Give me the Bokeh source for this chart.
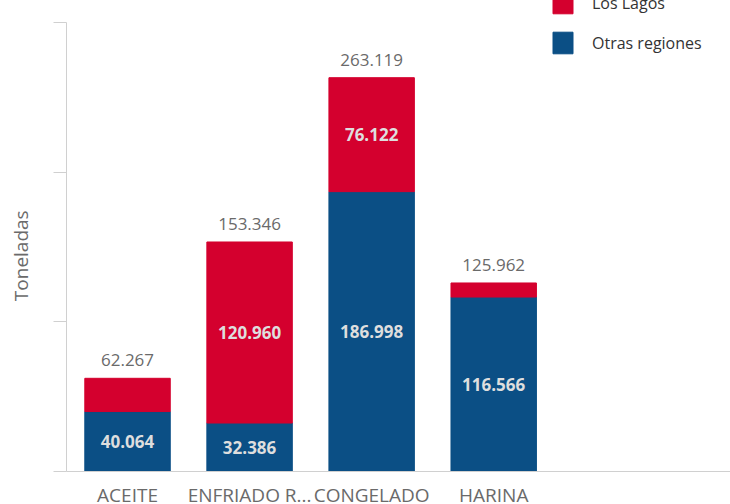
from bokeh.plotting import figure
from bokeh.models import ColumnDataSource, Range1d, FixedTicker, Legend, LegendItem, LabelSet
from bokeh.core.properties import value
from bokeh.embed import file_html
from bokeh.resources import INLINE

categories = ["ACEITE", "ENFRIADO R...", "CONGELADO", "HARINA"]
otras_regiones = [40064, 32386, 186998, 116566]
los_lagos = [22203, 120960, 76122, 9396]
totales = [62267, 153346, 263119, 125962]
y_ticks = [0, 100000, 200000, 300000]
y_title = "Toneladas"

RED = "#d4002e"
BLUE = "#0b4f85"
FONT = "Open Sans"

# frame layout: axis drawn over 449px, frame extends 22px higher (for clipped legend)
AXIS_PX = 449
FRAME_PX = 471
y_top = y_ticks[-1] * FRAME_PX / AXIS_PX


def fmt(v):
    return f"{v:,}".replace(",", ".")


xs = list(range(len(categories)))
min_label = 30000
src = ColumnDataSource(dict(
    x=xs,
    blue_top=otras_regiones,
    red_bottom=otras_regiones,
    red_top=[b + r for b, r in zip(otras_regiones, los_lagos)],
    blue_mid=[b / 2 for b in otras_regiones],
    red_mid=[b + r / 2 for b, r in zip(otras_regiones, los_lagos)],
    blue_lbl=[fmt(v) if v >= min_label else "" for v in otras_regiones],
    red_lbl=[fmt(v) if v >= min_label else "" for v in los_lagos],
    tot=totales,
    tot_lbl=[fmt(v) for v in totales],
    zero=[0] * len(xs),
))

p = figure(width=730, height=504, output_backend="svg", toolbar_location=None,
           x_range=Range1d(-0.5, 4.94), y_range=Range1d(0, y_top),
           frame_width=664, frame_height=FRAME_PX,
           min_border_left=66, min_border_right=0, min_border_top=0, min_border_bottom=10)
p.outline_line_color = None
p.grid.grid_line_color = None

w = 0.70
rb = p.vbar(x="x", bottom="zero", top="blue_top", width=w, source=src,
            fill_color=BLUE, line_color=BLUE)
rr = p.vbar(x="x", bottom="red_bottom", top="red_top", width=w, source=src,
            fill_color=RED, line_color=RED)

p.xaxis.ticker = FixedTicker(ticks=xs)
p.xaxis.major_label_overrides = {i: c for i, c in enumerate(categories)}
p.xaxis.major_tick_line_color = None
p.xaxis.minor_tick_line_color = None
p.xaxis.axis_line_color = "#d0d0d0"
p.xaxis.axis_line_width = 1
p.xaxis.major_label_text_color = "#6a6a6a"
p.xaxis.major_label_text_font = FONT
p.xaxis.major_label_text_font_size = "19px"
p.xaxis.major_label_standoff = 4

p.yaxis.ticker = FixedTicker(ticks=y_ticks)
p.yaxis.bounds = (y_ticks[0], y_ticks[-1])
p.yaxis.major_label_text_font_size = "0px"
p.yaxis.major_label_standoff = 0
p.yaxis.major_tick_out = 13
p.yaxis.major_tick_in = 0
p.yaxis.major_tick_line_color = "#d0d0d0"
p.yaxis.minor_tick_line_color = None
p.yaxis.axis_line_color = "#d0d0d0"
# trailing non-breaking spaces centre the visible title on the drawn axis, not on the frame
p.yaxis.axis_label = y_title + "\u00a0" * 8
p.yaxis.axis_label_text_font = FONT
p.yaxis.axis_label_text_font_style = "normal"
p.yaxis.axis_label_text_font_size = "19px"
p.yaxis.axis_label_text_color = "#6a6a6a"
p.yaxis.axis_label_standoff = 20

p.add_layout(LabelSet(x="x", y="tot", text="tot_lbl", source=src, text_align="center",
                      text_baseline="bottom", y_offset=12, text_color="#6a6a6a",
                      text_font=value(FONT), text_font_size=value("17px")))
p.add_layout(LabelSet(x="x", y="blue_mid", text="blue_lbl", source=src, text_align="center",
                      text_baseline="middle", text_color="#dedede", text_font=value(FONT),
                      text_font_size=value("17px"), text_font_style="bold"))
p.add_layout(LabelSet(x="x", y="red_mid", text="red_lbl", source=src, text_align="center",
                      text_baseline="middle", text_color="#dedede", text_font=value(FONT),
                      text_font_size=value("17px"), text_font_style="bold"))

legend_style = dict(orientation="vertical", glyph_width=25, glyph_height=27,
                    label_height=27, spacing=13, label_standoff=17, padding=0, margin=0,
                    border_line_color=None, background_fill_alpha=0,
                    label_text_font=FONT, label_text_font_size="16px",
                    label_text_color="#333333")
legend_top = Legend(items=[LegendItem(label="Los Lagos", renderers=[rr])],
                    location=(484, 455), **legend_style)
legend_bottom = Legend(items=[LegendItem(label="Otras regiones", renderers=[rb])],
                       location=(484, 415), **legend_style)
p.add_layout(legend_top)
p.add_layout(legend_bottom)

open("out.html", "w").write(file_html(p, INLINE))
